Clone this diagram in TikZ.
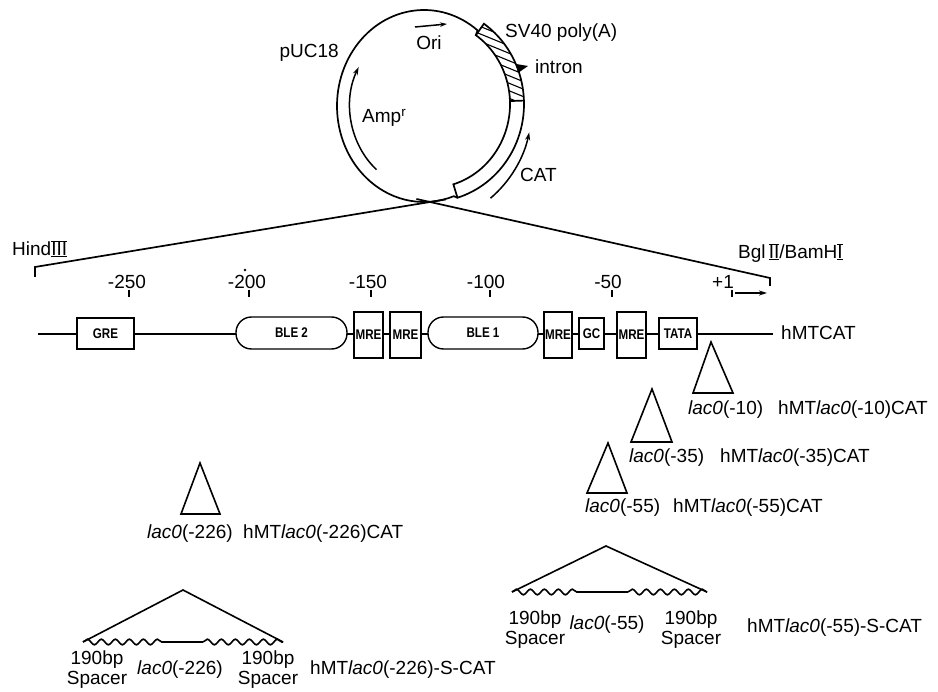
\documentclass[tikz,border=0pt]{standalone}
\usepackage{fontspec}
\setmainfont{Liberation Sans}
\newfontfamily\boxfont{Liberation Sans}[FakeStretch=0.83]
\usetikzlibrary{positioning,arrows.meta,decorations.pathmorphing,calc}

\newcommand{\romnum}[1]{\lower1.3pt\vbox{\hrule height 1.3pt\kern0.3pt\hbox{#1}\kern0.3pt\hrule height 1.3pt}}
\newcommand{\lacO}{\textit{lac0}}

\begin{document}
\begin{tikzpicture}[x=1pt, y=-1pt,
    lbl/.style={font=\fontsize{19}{20}\selectfont, inner sep=0pt},
    elemBox/.style={draw, fill=white, line width=1.4pt, font=\boxfont\bfseries\fontsize{14}{14}\selectfont, inner sep=0pt, minimum height=31},
    bleBox/.style={elemBox, rounded corners=15.5pt, minimum width=#1, minimum height=32},
    mreBox/.style={elemBox, minimum width=#1, minimum height=46},
    plasmidLine/.style={line width=1.7pt},
    dnaLine/.style={line width=2pt},
    triLine/.style={line width=1.6pt, line join=miter},
    snakeLine/.style={decorate, decoration={snake, amplitude=2.8pt, segment length=14pt}},
    arrowLine/.style={line width=1.5pt, -{Stealth[length=8pt, width=5pt]}}
]
    \useasboundingbox (0,0) rectangle (938,692);

    % Plasmide pUC18
    \coordinate (pc) at (424,106);
    \coordinate (bc) at (430,104);
    \draw[plasmidLine] ($(bc)+(-55:80 and 84)$) -- ($(pc)+(-52:87 and 96)$)
        arc[start angle=-52, end angle=-290, x radius=87, y radius=96]
        -- ($(bc)+(73:94 and 98)$);

    % Inserto (SV40 poly(A) tratteggiato, CAT bianco)
    \begin{scope}
        \clip ($(bc)+(-55:94 and 98)$) arc[start angle=-55, end angle=-2, x radius=94, y radius=98]
            -- ($(bc)+(-2:80 and 84)$) arc[start angle=-2, end angle=-55, x radius=80, y radius=84] -- cycle;
        \foreach \k in {0,...,22}
            \draw[line width=1.1pt] (440,-20+\k*7.5) -- ++(110,45);
    \end{scope}
    \draw[plasmidLine] ($(bc)+(-55:94 and 98)$) arc[start angle=-55, end angle=73, x radius=94, y radius=98]
        -- ($(bc)+(73:80 and 84)$) arc[start angle=73, end angle=-55, x radius=80, y radius=84] -- cycle;
    \draw[plasmidLine] ($(bc)+(-2:80 and 84)$) -- ($(bc)+(-2:94 and 98)$);
    \fill (516,64) -- (528,66) -- (518,73) -- cycle;

    % Frecce Amp, CAT, Ori
    \draw[arrowLine] ($(pc)+(130:74 and 83)$) arc[start angle=130, end angle=208, x radius=74, y radius=83];
    \draw[arrowLine] ($(pc)+(52:108 and 117)$) arc[start angle=52, end angle=13, x radius=108, y radius=117];
    \coordinate (oriA) at (415,27);
    \coordinate (oriB) at (447,24);
    \draw[arrowLine, -{Stealth[length=7pt, width=4.5pt]}] (oriA) -- (oriB);

    \node[lbl, anchor=base east] (puc) at (339,58) {pUC18};
    \node[lbl, anchor=base] (ori) at (429,50) {Ori};
    \node[lbl, anchor=base west] (sv40) at (505,38) {SV40 poly(A)};
    \node[lbl, anchor=base west] (intron) at (535,74) {intron};
    \node[lbl, anchor=base west] (amp) at (362,123) {Amp\textsuperscript{r}};
    \node[lbl, anchor=base west] (cat) at (520,182) {CAT};

    % Espansione verso la mappa
    \coordinate (cross) at (430,202);
    \coordinate (hindEnd) at (35,267);
    \coordinate (bglEnd) at (770,278);
    \draw[plasmidLine] ($(hindEnd)+(0,10)$) -- (hindEnd) -- ($(hindEnd)!1.04!(cross)$);
    \draw[plasmidLine] ($(bglEnd)+(0,8)$) -- (bglEnd) -- ($(bglEnd)!1.04!(cross)$);
    \node[lbl, anchor=base west] (hind) at (12,256) {Hind\romnum{III}};
    \node[lbl, anchor=base west] (bgl) at (738,259) {Bgl\,\romnum{II}/BamH\romnum{I}};

    % Scala
    \foreach \tx/\lx/\txt [count=\i] in {129/127/-250, 249/247/-200, 371/368/-150, 490/486/-100, 612/608/-50, 732/723/+1} {
        \node[lbl, anchor=base] (tk\i) at (\lx,289) {\txt};
        \draw[line width=1.6pt] (\tx,290) -- (\tx,297);
    }
    \fill (245,270) circle[radius=1.4];
    \coordinate (tssA) at (735,293);
    \coordinate (tssB) at (767,293);
    \draw[arrowLine] (tssA) -- (tssB);

    % Promotore hMT
    \coordinate (dnaL) at (38,334);
    \coordinate (dnaR) at (773,334);
    \draw[dnaLine] (dnaL) -- (dnaR);
    \node[elemBox, minimum width=57] (gre) at (105.5,333.5) {GRE};
    \node[bleBox=111] (ble2) at (291.5,333) {BLE 2};
    \node[mreBox=29] (mre1) at (368.5,335) {MRE};
    \node[mreBox=31] (mre2) at (405.5,335) {MRE};
    \node[bleBox=110] (ble1) at (483,333) {BLE 1};
    \node[mreBox=28] (mre3) at (558,335) {MRE};
    \node[elemBox, minimum width=25] (gc) at (591.5,333.5) {GC};
    \node[mreBox=29] (mre4) at (631.5,335) {MRE};
    \node[elemBox, minimum width=38] (tata) at (678,333.5) {TATA};
    \node[lbl, anchor=base west] (hmtcat) at (781,340) {hMTCAT};

    % Inserzioni lacO
    \draw[triLine] (693,393) -- (711,342) -- (733,393) -- cycle;
    \node[lbl, anchor=base west] (lac10) at (688,415) {\lacO(-10)};
    \node[lbl, anchor=base west] (hmt10) at (778,415) {hMT\lacO(-10)CAT};

    \draw[triLine] (631,442) -- (652,389) -- (672,442) -- cycle;
    \node[lbl, anchor=base west] (lac35) at (629,463) {\lacO(-35)};
    \node[lbl, anchor=base west] (hmt35) at (720,463) {hMT\lacO(-35)CAT};

    \draw[triLine] (587,493) -- (608,443) -- (627,493) -- cycle;
    \node[lbl, anchor=base west] (lac55) at (585,513) {\lacO(-55)};
    \node[lbl, anchor=base west] (hmt55) at (673,513) {hMT\lacO(-55)CAT};

    \draw[triLine] (181,514) -- (200,463) -- (220,514) -- cycle;
    \node[lbl, anchor=base west] (lac226) at (147,539) {\lacO(-226)};
    \node[lbl, anchor=base west] (hmt226) at (243,539) {hMT\lacO(-226)CAT};

    % Inserzioni con spacer
    \coordinate (spTopA) at (183,590);
    \coordinate (spLA) at (83,642);
    \coordinate (spRA) at (283,642);
    \coordinate (spMA1) at (163,642);
    \coordinate (spMA2) at (203,642);
    \draw[triLine] (spLA) -- (spTopA) -- (spRA);
    \draw[triLine, snakeLine] (spLA) -- (spMA1);
    \draw[triLine] (spMA1) -- (spMA2);
    \draw[triLine, snakeLine] (spMA2) -- (spRA);
    \node[lbl, align=center, anchor=north] (spA1) at (97,651) {190bp\\Spacer};
    \node[lbl, anchor=base] (lacS226) at (180,674) {\lacO(-226)};
    \node[lbl, align=center, anchor=north] (spA2) at (268,651) {190bp\\Spacer};
    \node[lbl, anchor=base west] (hmtS226) at (310,674) {hMT\lacO(-226)-S-CAT};

    \coordinate (spTopB) at (606,546);
    \coordinate (spLB) at (512,592);
    \coordinate (spRB) at (707,592);
    \coordinate (spMB1) at (583,592);
    \coordinate (spMB2) at (628,592);
    \draw[triLine] (spLB) -- (spTopB) -- (spRB);
    \draw[triLine, snakeLine] (spLB) -- (spMB1);
    \draw[triLine] (spMB1) -- (spMB2);
    \draw[triLine, snakeLine] (spMB2) -- (spRB);
    \node[lbl, align=center, anchor=north] (spB1) at (535,611) {190bp\\Spacer};
    \node[lbl, anchor=base] (lacS55) at (607,630) {\lacO(-55)};
    \node[lbl, align=center, anchor=north] (spB2) at (691,611) {190bp\\Spacer};
    \node[lbl, anchor=base west] (hmtS55) at (747,632) {hMT\lacO(-55)-S-CAT};
\end{tikzpicture}
\end{document}
